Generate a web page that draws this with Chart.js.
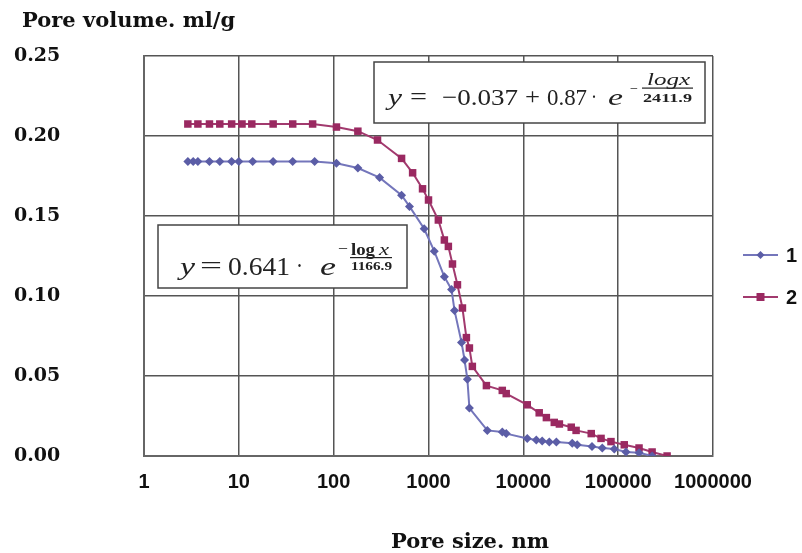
<!DOCTYPE html>
<html><head><meta charset="utf-8">
<script src="https://cdn.jsdelivr.net/npm/chart.js@4/dist/chart.umd.min.js"></script>
<style>html,body{margin:0;padding:0;background:#fff}#wrap{width:802px;height:553px}</style>
</head><body><div id="wrap"><canvas id="c" width="802" height="553"></canvas></div>
<script>
const xTickValues = [1, 10, 100, 1000, 10000, 100000, 1000000];
const xTickLabels = ['1', '10', '100', '1000', '10000', '100000', '1000000'];
const yTickValues = [0, 0.05, 0.10, 0.15, 0.20, 0.25];
const yTickLabels = ['0.00', '0.05', '0.10', '0.15', '0.20', '0.25'];
const seriesNames = ['1', '2'];
const xTitle = 'Pore size. nm';
const yTitle = 'Pore volume. ml/g';

const series1X = [2.9, 3.3, 3.7, 4.9, 6.3, 8.4, 10, 14, 23, 37, 63, 107, 180, 305, 520, 630, 900, 1150, 1470, 1750, 1880, 2230, 2400, 2570, 2700, 4170, 6000, 6600, 11000, 13700, 15800, 18800, 22300, 32800, 37000, 53000, 68000, 91000, 121000, 166000, 228000];
const series1Y = [0.184, 0.184, 0.184, 0.184, 0.184, 0.184, 0.184, 0.184, 0.184, 0.184, 0.184, 0.183, 0.180, 0.174, 0.163, 0.156, 0.142, 0.128, 0.112, 0.104, 0.091, 0.071, 0.060, 0.048, 0.030, 0.016, 0.015, 0.014, 0.011, 0.010, 0.0094, 0.0088, 0.0088, 0.008, 0.007, 0.006, 0.005, 0.0044, 0.0025, 0.002, 0.0];
const series2X = [2.9, 3.7, 4.9, 6.3, 8.4, 10.8, 13.7, 23, 37, 60, 107, 180, 290, 520, 680, 865, 1000, 1270, 1470, 1620, 1790, 2020, 2280, 2510, 2700, 2900, 4080, 6000, 6600, 11000, 14700, 17500, 21200, 24000, 32000, 36000, 52000, 66000, 84000, 116000, 166000, 228000, 328000];
const series2Y = [0.2075, 0.2075, 0.2075, 0.2075, 0.2075, 0.2075, 0.2075, 0.2075, 0.2075, 0.2075, 0.2056, 0.203, 0.1975, 0.186, 0.177, 0.167, 0.160, 0.1475, 0.135, 0.131, 0.120, 0.107, 0.0925, 0.074, 0.0675, 0.056, 0.044, 0.041, 0.039, 0.032, 0.027, 0.024, 0.021, 0.020, 0.018, 0.016, 0.014, 0.011, 0.009, 0.007, 0.005, 0.0025, 0.0];

const toPts = (xs, ys) => xs.map((x, i) => ({x: x, y: ys[i]}));

function fitText(ctx, text, x, y, w, font) {
  ctx.save();
  ctx.font = font;
  const m = ctx.measureText(text).width;
  ctx.translate(x, y);
  if (w && m > 0) ctx.scale(w / m, 1);
  ctx.fillText(text, 0, 0);
  ctx.restore();
}

const decorPlugin = {
  id: 'decor',
  afterDraw(chart) {
    const ctx = chart.ctx;
    ctx.save();
    ctx.fillStyle = '#111';
    ctx.textBaseline = 'alphabetic';
    ctx.textAlign = 'left';
    // axis titles
    ctx.font = 'bold 21px "DejaVu Serif"';
    ctx.fillText(yTitle, 22, 27);
    ctx.textAlign = 'center';
    ctx.fillText(xTitle, 470, 548);
    ctx.textAlign = 'left';

    // equation boxes
    const serif = '"Liberation Serif"';
    function box(l, t, r, b) {
      ctx.fillStyle = '#fff';
      ctx.fillRect(l, t, r - l, b - t);
      ctx.strokeStyle = '#444';
      ctx.lineWidth = 1.5;
      ctx.strokeRect(l, t, r - l, b - t);
      ctx.fillStyle = '#222';
    }
    // box 1
    box(374, 62, 705, 123);
    fitText(ctx, 'y', 388, 105, 14, 'italic 24px ' + serif);
    fitText(ctx, '=', 410, 104, 17, '24px ' + serif);
    fitText(ctx, '\u22120.037', 442, 105, 76, '24px ' + serif);
    fitText(ctx, '+', 525, 104, 15, '24px ' + serif);
    fitText(ctx, '0.87', 547, 105, 40, '24px ' + serif);
    fitText(ctx, '\u00b7', 591, 104, 6, '24px ' + serif);
    fitText(ctx, 'e', 608, 105, 15, 'italic 24px ' + serif);
    fitText(ctx, '\u2212', 630, 93, 8, '14px ' + serif);
    fitText(ctx, 'logx', 647, 85, 43, 'italic 16px ' + serif);
    ctx.fillRect(642, 87.5, 51, 1.2);
    fitText(ctx, '2411.9', 643, 102, 49, 'bold 13px ' + serif);

    // box 2
    box(158, 225, 407, 288);
    fitText(ctx, 'y', 180, 275, 15, 'italic 26px ' + serif);
    fitText(ctx, '=', 200, 274, 22, '26px ' + serif);
    fitText(ctx, '0.641', 228, 275, 62, '26px ' + serif);
    fitText(ctx, '\u00b7', 296, 274, 7, '26px ' + serif);
    fitText(ctx, 'e', 320, 275, 16, 'italic 26px ' + serif);
    fitText(ctx, '\u2212', 338, 254, 10, '16px ' + serif);
    fitText(ctx, 'log', 351, 255, 24, 'bold 16px ' + serif);
    fitText(ctx, 'x', 379, 255, 10, 'italic 16px ' + serif);
    ctx.fillRect(350, 257, 42, 1.2);
    fitText(ctx, '1166.9', 351, 270, 41, 'bold 13px ' + serif);

    // legend
    const legY = [255, 297];
    chart.data.datasets.forEach((ds, i) => {
      const y = legY[i];
      ctx.strokeStyle = ds.borderColor;
      ctx.lineWidth = 2;
      ctx.beginPath();
      ctx.moveTo(743, y);
      ctx.lineTo(778, y);
      ctx.stroke();
      ctx.fillStyle = ds.pointBackgroundColor;
      ctx.beginPath();
      if (ds.pointStyle === 'rectRot') {
        ctx.moveTo(760.5, y - 4); ctx.lineTo(764.5, y); ctx.lineTo(760.5, y + 4); ctx.lineTo(756.5, y);
      } else {
        ctx.rect(756.5, y - 4, 8, 8);
      }
      ctx.closePath();
      ctx.fill();
      ctx.fillStyle = '#111';
      ctx.font = 'bold 20px "Liberation Sans"';
      ctx.fillText(ds.label, 786, y + 7);
    });
    ctx.restore();
  }
};

new Chart(document.getElementById('c'), {
  type: 'scatter',
  data: {
    datasets: [
      {
        label: seriesNames[0],
        data: toPts(series1X, series1Y),
        showLine: true,
        borderColor: '#7476bb',
        borderWidth: 2,
        pointStyle: 'rectRot',
        pointRadius: 4.5,
        pointBackgroundColor: '#5b5da6',
        pointBorderColor: '#5b5da6',
        pointBorderWidth: 0
      },
      {
        label: seriesNames[1],
        data: toPts(series2X, series2Y),
        showLine: true,
        borderColor: '#a23a6e',
        borderWidth: 2,
        pointStyle: 'rect',
        pointRadius: 5.3,
        pointBackgroundColor: '#9a2961',
        pointBorderColor: '#9a2961',
        pointBorderWidth: 0
      }
    ]
  },
  options: {
    responsive: false,
    animation: false,
    devicePixelRatio: 1,
    layout: {padding: {left: 14, top: 56, right: 89, bottom: 0}},
    plugins: {legend: {display: false}, tooltip: {enabled: false}, title: {display: false}},
    scales: {
      x: {
        type: 'logarithmic',
        min: 1,
        max: 1000000,
        afterBuildTicks: (s) => { s.ticks = xTickValues.map(v => ({value: v, major: true})); },
        afterFit: (s) => { s.height = 97; },
        ticks: {
          autoSkip: false,
          maxRotation: 0,
          padding: 14,
          color: '#111',
          font: {family: 'Liberation Sans', weight: 'bold', size: 20},
          callback: (v) => { const i = xTickValues.indexOf(v); return i >= 0 ? xTickLabels[i] : ''; }
        },
        grid: {color: '#555', lineWidth: 1.5, drawTicks: false},
        border: {display: true, color: '#666', width: 2},
        title: {display: false}
      },
      y: {
        type: 'linear',
        min: 0,
        max: 0.25,
        afterBuildTicks: (s) => { s.ticks = yTickValues.map(v => ({value: v})); },
        afterFit: (s) => { s.width = 130; },
        ticks: {
          padding: 0,
          crossAlign: 'far',
          color: '#111',
          font: {family: 'DejaVu Serif', weight: 'bold', size: 19},
          callback: (v, i) => yTickLabels[i]
        },
        grid: {color: '#555', lineWidth: 1.5, drawTicks: false},
        border: {display: true, color: '#666', width: 2},
        title: {display: false}
      }
    }
  },
  plugins: [decorPlugin]
});
</script>
</body></html>
